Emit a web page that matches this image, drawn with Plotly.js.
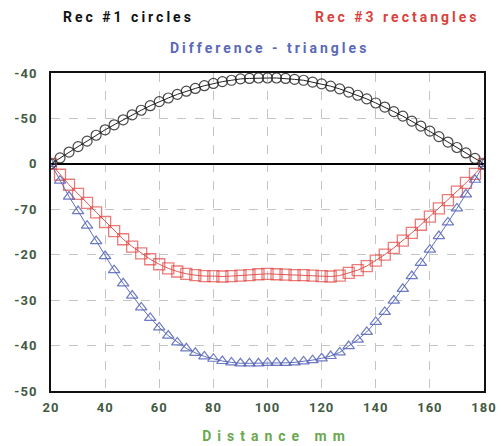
<!DOCTYPE html>
<html>
<head>
<meta charset="utf-8">
<script src="https://cdn.plot.ly/plotly-3.0.1.min.js"></script>
<style>
html,body{margin:0;padding:0;background:#fff;}
#chart{width:501px;height:446px;}
.xtitle{letter-spacing:6px;transform:translate(9px,0px);}
.annotation-text{letter-spacing:3px;}
.xtick text,.ytick text{letter-spacing:1px;}
</style>
</head>
<body>
<div id="chart"></div>
<script>
// Distance (mm): 49 sample positions from 20 to 180
const distance = [20,23.33,26.67,30,33.33,36.67,40,43.33,46.67,50,53.33,56.67,60,63.33,66.67,70,73.33,76.67,80,83.33,86.67,90,93.33,96.67,100,103.33,106.67,110,113.33,116.67,120,123.33,126.67,130,133.33,136.67,140,143.33,146.67,150,153.33,156.67,160,163.33,166.67,170,173.33,176.67,180];

const rec1Circles = [0,1.3,2.6,3.8,5.0,6.3,7.5,8.6,9.7,10.8,11.8,12.8,13.7,14.5,15.3,16.0,16.6,17.2,17.7,18.1,18.4,18.7,18.8,18.9,18.9,18.9,18.8,18.6,18.4,18.0,17.6,17.1,16.5,15.8,15.1,14.3,13.4,12.5,11.5,10.5,9.4,8.3,7.2,6.0,4.8,3.6,2.4,1.2,0];

const rec3Rectangles = [0,-2.4,-4.6,-6.6,-8.6,-10.7,-12.8,-14.8,-16.6,-18.2,-19.7,-21.0,-22.1,-23.0,-23.7,-24.2,-24.5,-24.7,-24.7,-24.8,-24.7,-24.6,-24.5,-24.3,-24.2,-24.3,-24.4,-24.5,-24.5,-24.6,-24.7,-24.8,-24.6,-24.0,-23.4,-22.5,-21.3,-20.0,-18.5,-16.9,-15.2,-13.4,-11.6,-9.8,-8.0,-6.1,-4.2,-2.2,0];

const differenceTriangles = [0,-3.7,-7.2,-10.4,-13.6,-17.0,-20.3,-23.4,-26.3,-29.0,-31.6,-33.9,-36.0,-37.8,-39.3,-40.6,-41.6,-42.4,-42.9,-43.4,-43.7,-43.9,-43.9,-43.9,-43.8,-43.8,-43.8,-43.7,-43.5,-43.2,-42.8,-42.3,-41.5,-40.1,-38.7,-37.0,-34.8,-32.6,-30.1,-27.5,-24.7,-21.8,-18.9,-15.9,-12.9,-9.8,-6.7,-3.5,0];

const yTickVals = [20,10,0,-10,-20,-30,-40,-50];
const yTickText = ["-40","-50","0","-70","-20","-30","-40","-50"];
const xTickVals = [20,40,60,80,100,120,140,160,180];

const tickFont = {family:"Roboto, sans-serif", size:13, color:"#435a43", weight:700};

const traces = [
  {x:distance, y:rec3Rectangles, mode:"lines+markers", name:"Rec #3 rectangles",
   line:{color:"rgba(220,60,55,0.85)", width:1},
   marker:{symbol:"square-open", size:11, color:"rgba(225,70,65,0.7)", line:{width:1.3}}},
  {x:distance, y:differenceTriangles, mode:"lines+markers", name:"Difference - triangles",
   line:{color:"rgba(80,95,180,0.9)", width:1},
   marker:{symbol:"triangle-up-open", size:10, color:"rgba(85,100,185,0.85)", line:{width:1.2}}},
  {x:distance, y:rec1Circles, mode:"lines+markers", name:"Rec #1 circles",
   line:{color:"#222", width:1},
   marker:{symbol:"circle-open", size:10, color:"rgba(40,40,40,0.85)", line:{width:1.2}}}
];

const layout = {
  width:501, height:446,
  margin:{l:51, r:17, t:73, b:55},
  paper_bgcolor:"#fff", plot_bgcolor:"#fff",
  showlegend:false,
  xaxis:{
    range:[20,180], tickvals:xTickVals, ticktext:xTickVals.map(String),
    showgrid:true, gridcolor:"#c4c4c4", griddash:"dash", gridwidth:1,
    showline:true, linecolor:"#111", linewidth:2, mirror:true,
    zeroline:false, ticks:"", tickfont:tickFont, ticklabelstandoff:3,
    title:{text:"Distance mm", font:{family:"Roboto, sans-serif", size:14, color:"#6aa84f", weight:700}, standoff:18}
  },
  yaxis:{
    range:[-50,20], tickvals:yTickVals, ticktext:yTickText,
    showgrid:true, gridcolor:"#c4c4c4", griddash:"dash", gridwidth:1,
    showline:true, linecolor:"#111", linewidth:2, mirror:true,
    zeroline:true, zerolinecolor:"#000", zerolinewidth:2,
    ticks:"", tickfont:tickFont, ticklabelstandoff:9
  },
  annotations:[
    {text:"Rec #1 circles", xref:"paper", yref:"paper", x:(128-51)/433, y:1+(73-17)/318, xanchor:"center", yanchor:"middle", showarrow:false,
     font:{family:"Roboto, sans-serif", size:14, color:"#111", weight:700}},
    {text:"Rec #3 rectangles", xref:"paper", yref:"paper", x:(397-51)/433, y:1+(73-17)/318, xanchor:"center", yanchor:"middle", showarrow:false,
     font:{family:"Roboto, sans-serif", size:14, color:"#d9433c", weight:700}},
    {text:"Difference - triangles", xref:"paper", yref:"paper", x:(269-51)/433, y:1+(73-48)/318, xanchor:"center", yanchor:"middle", showarrow:false,
     font:{family:"Roboto, sans-serif", size:14, color:"#5a69b8", weight:700}}
  ]
};

Plotly.newPlot("chart", traces, layout, {displayModeBar:false, staticPlot:true});
</script>
</body>
</html>
